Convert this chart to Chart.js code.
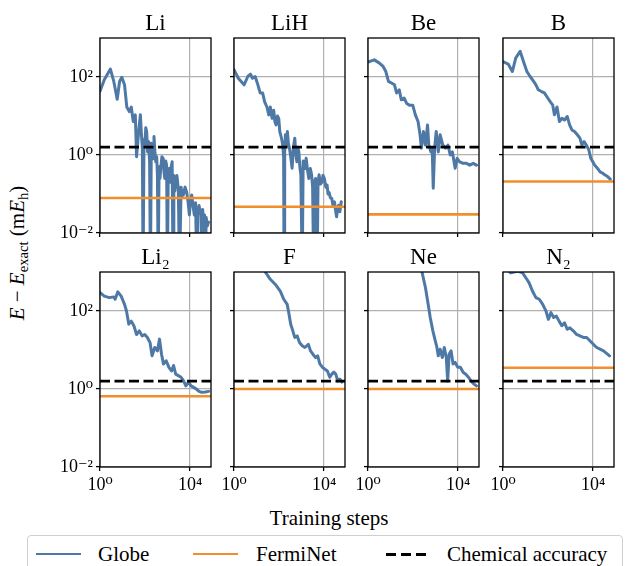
<!DOCTYPE html>
<html>
<head>
<meta charset="utf-8">
<script src="https://cdn.jsdelivr.net/npm/chart.js@4.4.1/dist/chart.umd.min.js"></script>
<style>
body { margin: 0; background: #fff; }
#fig { position: relative; width: 629px; height: 566px; overflow: hidden; font-family: "Liberation Serif", "DejaVu Serif", serif; color: #000; }
#fig canvas { position: absolute; }
.lbl { position: absolute; transform: translate(-50%, -50%); white-space: nowrap; }
#ylabel { left: 17px; top: 253px; transform: translate(-50%, -50%) rotate(-90deg); font-size: 21px; }
#xlabel { left: 329px; top: 518px; font-size: 21px; }
.sub { font-size: 0.7em; position: relative; top: 0.3em; }
#legend { position: absolute; left: 27px; top: 535px; width: 596px; height: 44px; border: 1px solid #cfcfcf; border-radius: 4px; box-sizing: border-box; }
.key { position: absolute; top: 17px; height: 0; }
.keytext { position: absolute; top: 18px; transform: translateY(-50%); font-size: 21px; white-space: nowrap; }
</style>
</head>
<body>
<div id="fig">
  <div id="ylabel" class="lbl"><i>E</i> − <i>E</i><span class="sub">exact</span> (m<i>E</i><span class="sub">h</span>)</div>
  <div id="xlabel" class="lbl">Training steps</div>
  <div id="legend">
    <div class="key" style="left:8px;width:45px;border-top:2.8px solid #4e79a7;"></div>
    <div class="keytext" style="left:70px;">Globe</div>
    <div class="key" style="left:165px;width:45px;border-top:2.6px solid #f28e2b;"></div>
    <div class="keytext" style="left:228px;">FermiNet</div>
    <div class="key" style="left:358px;width:45px;height:2.8px;background:repeating-linear-gradient(90deg,#000 0 10px,transparent 10px 15px);"></div>
    <div class="keytext" style="left:419px;">Chemical accuracy</div>
  </div>
</div>
<script>
const molecules = ["Li", "LiH", "Be", "B", "Li2", "F", "Ne", "N2"];
const titles = ["Li", "LiH", "Be", "B", "Li₂", "F", "Ne", "N₂"];
const fermiNetError = [0.079, 0.047, 0.030, 0.21, 0.65, 1.0, 1.0, 3.5];
const chemicalAccuracy = 1.6;
const xTicks = [1, 10000];
const yTicks = [0.01, 1, 100];
const xMin = 1, xMax = 85000, yMin = 0.01, yMax = 1000;

// Globe: training step vs error (mEh)
const stepsLi = [1,1.55,2.9,4.1,5.8,7.4,9.3,12.3,15.5,20,24.5,30,37,42,52,62,70,76,82,90,97,108,118,130,146,160,174,190,205,230,250,275,300,330,355,385,420,460,500,560,640,700,760,830,910,980,1070,1200,1320,1450,1600,1750,1900,2100,2300,2600,3000,3400,4000,4500,5000,6000,7100,8200,9300,10500,11800,13500,15500,17500,20000,22500,25000,28000,31000,33500,36000,40000,44000,48000,52000,58000,66000];
const globeLi = [43,85,160,77,27,77,98,63,17,13,17,7.2,10.7,0.9,4,10.7,3,1.5,0.001,2.5,1.8,5,4,1.2,2.2,0.6,0.001,2.0,1.8,0.8,3,1.2,0.67,0.9,0.31,0.001,0.5,0.25,0.46,0.9,0.82,0.35,0.25,0.7,0.55,0.001,0.3,0.45,0.2,0.5,0.67,0.001,0.3,0.12,0.17,0.3,0.14,0.001,0.15,0.09,0.094,0.15,0.11,0.06,0.029,0.07,0.094,0.05,0.029,0.06,0.001,0.04,0.051,0.035,0.029,0.001,0.04,0.022,0.029,0.001,0.025,0.015,0.019];

const stepsLiH = [1,1.55,2.8,4.1,5.4,6.6,8.7,11.5,14.5,18.6,23,29,35,41,49,58,66,74,85,97,108,118,132,146,160,167,178,192,212,235,260,290,330,380,430,500,560,620,690,760,840,930,1070,1180,1320,1450,1600,1850,2100,2450,2800,3100,3450,3800,4200,4900,5400,6000,6900,7900,9000,10300,12000,13600,15000,16700,19000,22000,25000,29000,32000,36000,40000,44000,50000,58000];
const globeLiH = [155,93,63,103,118,93,103,63,39,39,23,17,10.7,17,8.7,14,7,5.9,10,8.7,4,3.3,2.5,1.8,0.9,0.001,1.2,3.3,1.8,4,2,1.5,0.9,0.46,1.5,2.7,1.0,0.67,1.5,1.2,0.5,0.31,0.001,0.7,0.67,0.45,0.82,0.4,0.25,0.45,0.31,0.15,0.001,0.2,0.25,0.001,0.2,0.31,0.18,0.2,0.3,0.25,0.15,0.17,0.1,0.11,0.08,0.077,0.05,0.063,0.04,0.026,0.045,0.051,0.035,0.063];

const stepsBe = [1,1.9,3.1,4.7,6.2,8.1,11.5,15,18.6,24.5,30,40,52,69,97,127,167,205,235,290,355,440,500,620,710,790,910,1070,1320,1600,2100,2800,3550,4500,5600,7400,9100,11800,16700,23500,33000,47000,66000];
const globeBe = [240,275,230,186,138,77,69,63,39,47,26,29,21,19,19,10.7,7.2,3.3,1.5,4,1.8,5.9,1.8,1.2,1.5,0.14,1.5,4,1.2,3.3,1.8,1.5,1.8,1.0,1.2,0.46,0.82,0.67,0.61,0.61,0.55,0.61,0.55];

const stepsB = [1,1.7,2.6,3.7,5.8,8.1,11.5,16,23,29,37,49,69,97,127,162,192,250,320,410,540,710,910,1150,1500,2000,2600,3200,4000,5000,6500,7900,9700,11800,15500,20500,27000,33000,44000,58000];
const globeB = [250,215,138,310,455,250,138,103,77,63,47,43,39,29,23,19,10.7,17,7.2,8.7,7.9,9.7,5.9,4.4,4,3.3,2.7,1.8,2.2,1.8,1.35,0.82,0.67,0.55,0.46,0.37,0.34,0.31,0.28,0.24];

const stepsLi2 = [1,1.55,2.6,4.1,4.7,6.2,8.7,12.3,15,19,24.5,32,42,56,74,97,127,167,205,270,355,440,540,660,870,1150,1500,1850,2300,3000,4000,5200,6500,8500,11000,14500,19000,25000,33000,47000,66000];
const globeLi2 = [295,240,220,230,200,310,240,148,100,46,55,42,25,31,23,25,21,15.5,7.1,11.6,9.5,19,7.8,4.4,5.3,3.6,2.9,4,2.4,2.2,2.0,1.6,1.2,1.5,1.2,1.1,1.0,0.87,0.82,0.84,0.87];

const stepsF = [10,24.5,41,69,115,162,230,270,330,410,500,640,810,1070,1400,2000,2500,3200,4200,5200,6500,8500,11000,14000,18000,22000,27000,33000,41000,50000,62000];
const globeF = [4000,1000,650,480,320,200,148,91,46,31,21,23,15.5,12.8,11.6,14,9.5,7.8,6.4,7.1,4.4,3.6,3.2,2.9,2.0,2.4,2.7,2.4,1.6,1.8,1.5];

const stepsNe = [190,250,355,470,580,760,930,1150,1320,1600,2000,2450,3000,3450,4000,4900,6000,7400,9700,12700,16700,22000,29000,38000,50000,66000];
const globeNe = [4000,1000,400,148,68,31,19,11.6,7.1,10.5,6.4,11.6,6.4,1.6,7.8,9.5,4.4,4.8,3.6,3.6,2.7,2.4,2.0,1.6,1.35,1.2];

const stepsN2 = [1,2.2,4.4,7.4,10.3,14.5,20.5,29,41,58,81,103,135,178,235,310,410,540,710,930,1320,1850,2600,3700,5200,7400,10300,14500,20500,29000,41000,54000];
const globeN2 = [1550,950,1050,950,710,525,320,220,200,148,100,61,91,68,74,55,42,50,34,37,31,25,23,21,21,17,14,11.6,10.5,9.5,8.1,7.1];

const globeSteps = [stepsLi, stepsLiH, stepsBe, stepsB, stepsLi2, stepsF, stepsNe, stepsN2];
const globeErrors = [globeLi, globeLiH, globeBe, globeB, globeLi2, globeF, globeNe, globeN2];

const colLeft = [100, 234, 368, 503];
const rowTop = [38, 272];
const plotW = 111, plotH = 195;
const padL = 55, padR = 20, padT = 34, padB = 40;
const serif = "'Liberation Serif', 'DejaVu Serif', serif";

const sup = { "-": "⁻", "0": "⁰", "1": "¹", "2": "²", "3": "³", "4": "⁴" };
const powLabel = v => "10" + String(Math.round(Math.log10(v))).split("").map(c => sup[c]).join("");

const frame = {
    id: "frame",
    afterDatasetsDraw(chart) {
        const { ctx, chartArea: a } = chart;
        ctx.save();
        ctx.strokeStyle = "#000";
        ctx.lineWidth = 1.3;
        ctx.strokeRect(a.left, a.top, a.right - a.left, a.bottom - a.top);
        ctx.restore();
    }
};

const fig = document.getElementById("fig");

molecules.forEach((m, i) => {
    const row = Math.floor(i / 4), col = i % 4;
    const canvas = document.createElement("canvas");
    canvas.width = padL + plotW + padR;
    canvas.height = padT + plotH + padB;
    canvas.style.left = (colLeft[col] - padL) + "px";
    canvas.style.top = (rowTop[row] - padT) + "px";
    fig.appendChild(canvas);

    const steps = globeSteps[i], errs = globeErrors[i];

    new Chart(canvas, {
        type: "line",
        data: {
            datasets: [
                {
                    label: "Chemical accuracy",
                    data: [{ x: xMin, y: chemicalAccuracy }, { x: xMax, y: chemicalAccuracy }],
                    borderColor: "#000",
                    borderWidth: 2.8,
                    borderDash: [10, 4.5],
                    pointRadius: 0
                },
                {
                    label: "FermiNet",
                    data: [{ x: xMin, y: fermiNetError[i] }, { x: xMax, y: fermiNetError[i] }],
                    borderColor: "#f28e2b",
                    borderWidth: 2.6,
                    pointRadius: 0
                },
                {
                    label: "Globe",
                    data: steps.map((s, k) => ({ x: s, y: errs[k] })),
                    borderColor: "#4e79a7",
                    borderWidth: 3,
                    borderJoinStyle: "round",
                    borderCapStyle: "round",
                    pointRadius: 0,
                    clip: 0
                }
            ]
        },
        options: {
            responsive: false,
            animation: false,
            layout: { padding: { left: 0, right: padR, top: 0, bottom: 0 } },
            plugins: {
                legend: { display: false },
                tooltip: { enabled: false },
                title: {
                    display: true,
                    fullSize: false,
                    text: titles[i],
                    color: "#000",
                    font: { family: serif, size: 23, weight: "normal", lineHeight: "22px" },
                    padding: { top: 9, bottom: 3 }
                }
            },
            scales: {
                x: {
                    type: "logarithmic",
                    min: xMin,
                    max: xMax,
                    afterBuildTicks: s => { s.ticks = xTicks.map(v => ({ value: v })); },
                    afterFit: s => { s.height = padB; },
                    ticks: {
                        autoSkip: false,
                        maxRotation: 0,
                        padding: 3,
                        color: "#000",
                        font: { family: serif, size: 18 },
                        callback: v => row === 1 ? powLabel(v) : ""
                    },
                    grid: { color: "#b0b0b0", lineWidth: 1.2, tickColor: "#000", tickLength: 4, tickWidth: 1.3 },
                    border: { display: false }
                },
                y: {
                    type: "logarithmic",
                    min: yMin,
                    max: yMax,
                    afterBuildTicks: s => { s.ticks = yTicks.map(v => ({ value: v })); },
                    afterFit: s => { s.width = padL; },
                    ticks: {
                        autoSkip: false,
                        padding: 3,
                        color: "#000",
                        font: { family: serif, size: 18 },
                        callback: v => col === 0 ? powLabel(v) : ""
                    },
                    grid: { color: "#b0b0b0", lineWidth: 1.2, tickColor: "#000", tickLength: 4, tickWidth: 1.3 },
                    border: { display: false }
                }
            }
        },
        plugins: [frame]
    });
});
</script>
</body>
</html>
